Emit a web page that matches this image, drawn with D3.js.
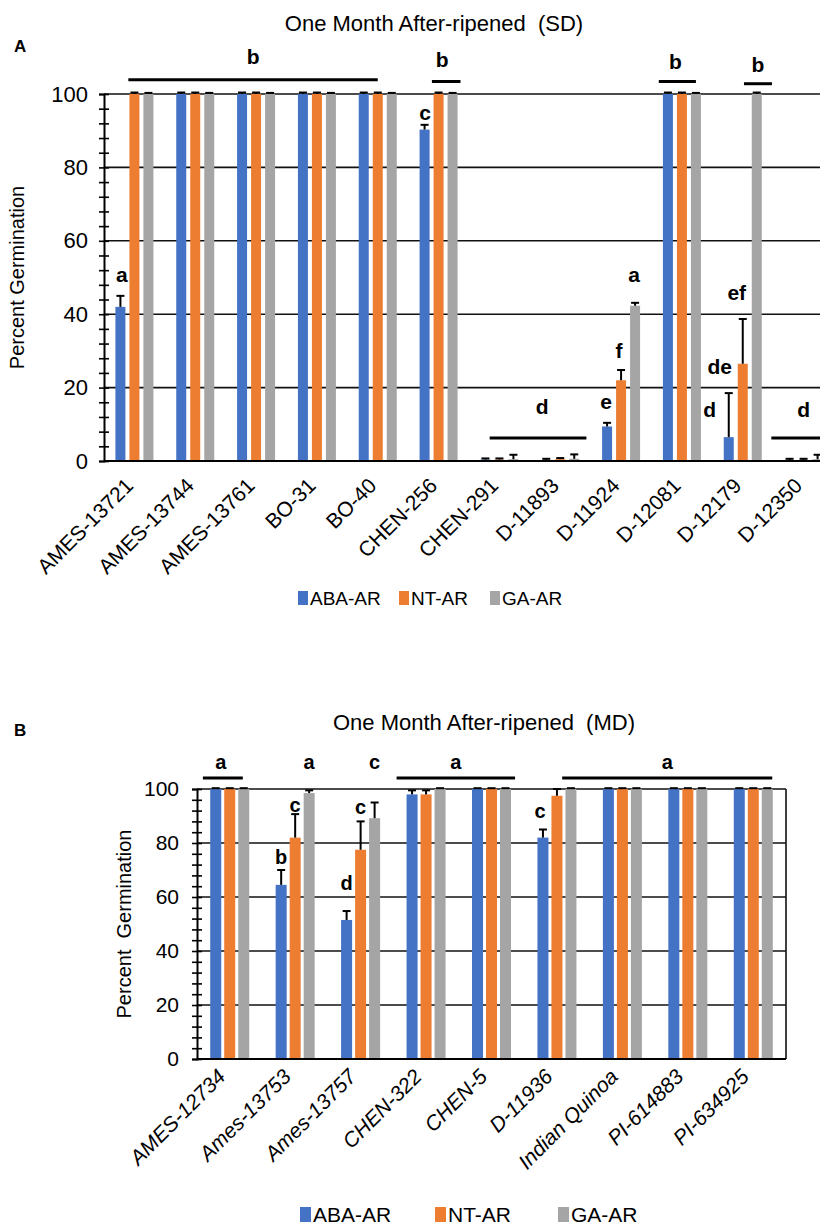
<!DOCTYPE html>
<html><head><meta charset="utf-8">
<script src="https://cdn.jsdelivr.net/npm/d3@7"></script>
<style>
body{margin:0;background:#fff}
svg{display:block}
text{font-family:Arial,"Liberation Sans",sans-serif;fill:#000}
</style>
</head><body>
<svg id="c" width="820" height="1230"></svg>
<script>
// ---------- DATA ----------
const seriesNames = ["ABA-AR", "NT-AR", "GA-AR"];
const seriesColors = ["#4472C4", "#ED7D31", "#A5A5A5"];
const yTickLabels = [0, 20, 40, 60, 80, 100];

// Panel A: One Month After-ripened (SD)
const catsA = ["AMES-13721","AMES-13744","AMES-13761","BO-31","BO-40","CHEN-256","CHEN-291","D-11893","D-11924","D-12081","D-12179","D-12350"];
const abaA = [42, 100, 100, 100, 100, 90.3, 0.4, 0.3, 9.4, 100, 6.5, 0.3];
const ntA  = [100, 100, 100, 100, 100, 100, 0.4, 0.5, 22, 100, 26.5, 0.3];
const gaA  = [100, 100, 100, 100, 100, 100, 0.5, 0.6, 42.3, 100, 100, 0.5];
const abaErrA = [3, 0.4, 0.4, 0.4, 0.4, 1.3, 0.3, 0.3, 1, 0.4, 12, 0.3];
const ntErrA  = [0.4, 0.4, 0.4, 0.4, 0.4, 0.4, 0.3, 0.3, 2.8, 0.4, 12.2, 0.3];
const gaErrA  = [0.3, 0.3, 0.3, 0.3, 0.3, 0.3, 1.2, 1.2, 0.8, 0.3, 0.4, 1.2];
// group letters: span in category units, line level and letter level in % units
const groupTextA = ["b", "b", "b", "b", "d", "d"];
const groupFromA = [-0.1, 4.89, 8.62, 10.02, 5.84, 10.47];
const groupToA   = [4.0, 5.36, 9.23, 10.48, 7.43, 11.6];
const groupLineA = [103.9, 103.4, 103.4, 102.8, 6.3, 6.3];
const groupLetA  = [110.2, 109.4, 108.8, 108, 14.7, 13.9];
// bar letters: category, series position, level
const barTextA = ["a", "c", "e", "f", "a", "d", "de", "ef"];
const barCatA  = [0, 5, 8, 8, 8, 10, 10, 10];
const barPosA  = [0.1, 0.03, -0.07, 0.86, 1.93, -1.36, -0.64, 0.57];
const barLvlA  = [50.7, 94.9, 16.1, 30, 50.7, 13.9, 25.6, 46];

// Panel B: One Month After-ripened (MD)
const catsB = ["AMES-12734","Ames-13753","Ames-13757","CHEN-322","CHEN-5","D-11936","Indian Quinoa","PI-614883","PI-634925"];
const abaB = [100, 64.5, 51.5, 98, 100, 82, 100, 100, 100];
const ntB  = [100, 82, 77.5, 98, 100, 97.5, 100, 100, 100];
const gaB  = [100, 98.5, 89.2, 100, 100, 100, 100, 100, 100];
const abaErrB = [0.3, 5.5, 3.3, 1.5, 0.3, 3, 0.3, 0.3, 0.3];
const ntErrB  = [0.3, 8.7, 10.5, 1.5, 0.3, 2.5, 0.3, 0.3, 0.3];
const gaErrB  = [0.3, 1, 5.8, 0.3, 0.3, 0.3, 0.3, 0.3, 0.3];
const groupTextB = ["a", "a", "a"];
const groupFromB = [-0.41, 2.55, 5.08];
const groupToB   = [0.2, 4.36, 8.29];
const groupLineB = [104.1, 104.1, 104.1];
const groupLetB  = [110, 110, 110];
const barTextB = ["a", "c", "b", "c", "c", "d", "c"];
const barCatB  = [1, 2, 1, 1, 2, 2, 5];
const barPosB  = [2, 2, 0, 1, 1, 0, -0.2];
const barLvlB  = [110, 110, 74.8, 94, 93.3, 65.2, 91.9];

// ---------- DRAW ----------
const svg = d3.select("#c");

function drawPanel(cfg) {
  const g = svg.append("g");
  const n = cfg.cats.length;
  const x = d3.scaleBand().domain(d3.range(n)).range([cfg.x0, cfg.x1]).padding(0);
  const xc = d3.scaleLinear().domain([-0.5, n - 0.5]).range([cfg.x0, cfg.x1]);
  const y = d3.scaleLinear().domain([0, 100]).range([cfg.yb, cfg.yt]);
  const center = i => x(i) + x.bandwidth() / 2;

  // gridlines
  g.selectAll(".grid").data([20, 40, 60, 80, 100]).join("line")
    .attr("x1", cfg.x0).attr("x2", cfg.gridEnd)
    .attr("y1", d => y(d)).attr("y2", d => y(d))
    .attr("stroke", "#111").attr("stroke-width", 1.6);
  if (cfg.box) {
    g.append("line").attr("x1", cfg.gridEnd).attr("x2", cfg.gridEnd)
      .attr("y1", y(100)).attr("y2", y(0)).attr("stroke", "#111").attr("stroke-width", 1.6);
  }

  // bars
  cfg.series.forEach((vals, s) => {
    g.append("g").selectAll("rect").data(vals).join("rect")
      .attr("x", (d, i) => center(i) + (s - 1) * cfg.step - cfg.bw / 2)
      .attr("width", cfg.bw)
      .attr("y", d => y(d))
      .attr("height", d => y(0) - y(d))
      .attr("fill", seriesColors[s]);
  });

  // error bars (upper only)
  cfg.series.forEach((vals, s) => {
    const errs = cfg.errs[s];
    const eg = g.append("g").attr("stroke", "#000").attr("stroke-width", 2);
    vals.forEach((v, i) => {
      const cx = center(i) + (s - 1) * cfg.step;
      eg.append("line").attr("x1", cx).attr("x2", cx).attr("y1", y(v)).attr("y2", y(v + errs[i]));
      eg.append("line").attr("x1", cx - 4).attr("x2", cx + 4).attr("y1", y(v + errs[i])).attr("y2", y(v + errs[i]));
    });
  });

  // x axis line
  g.append("line").attr("x1", cfg.x0).attr("x2", cfg.gridEnd)
    .attr("y1", y(0)).attr("y2", y(0)).attr("stroke", "#000").attr("stroke-width", 2.2);

  // y axis: minor/major crossing ticks
  const minor = g.append("g").attr("transform", `translate(${cfg.x0},0)`)
    .call(d3.axisLeft(y).tickValues(d3.range(0, 101, 4)).tickSize(5).tickFormat(""));
  minor.select(".domain").attr("stroke", "#000").attr("stroke-width", 2);
  minor.selectAll(".tick line").attr("x1", 5).attr("x2", -5).attr("stroke", "#000").attr("stroke-width", 1.6);

  // y tick labels
  const lab = g.append("g").attr("transform", `translate(${cfg.x0},0)`)
    .call(d3.axisLeft(y).tickValues(yTickLabels).tickSize(0).tickPadding(cfg.tickPad));
  lab.select(".domain").remove();
  lab.selectAll("text").style("font-size", cfg.tickFont + "px").style("font-family", "Arial, 'Liberation Sans', sans-serif").attr("fill", "#000");

  // x category labels
  g.selectAll(".xl").data(cfg.cats).join("text")
    .attr("transform", (d, i) => `translate(${center(i) + cfg.labDx},${cfg.labY}) rotate(-45)`)
    .attr("text-anchor", "end")
    .style("font-size", cfg.labFont + "px")
    .style("font-style", cfg.italic ? "italic" : "normal")
    .text(d => d);

  // group significance lines and letters
  cfg.groupText.forEach((t, k) => {
    g.append("line").attr("x1", xc(cfg.groupFrom[k])).attr("x2", xc(cfg.groupTo[k]))
      .attr("y1", y(cfg.groupLine[k])).attr("y2", y(cfg.groupLine[k]))
      .attr("stroke", "#000").attr("stroke-width", 3);
    g.append("text").attr("x", (xc(cfg.groupFrom[k]) + Math.min(xc(cfg.groupTo[k]), 820)) / 2 + (cfg.groupShift[k] || 0))
      .attr("y", y(cfg.groupLet[k])).attr("dy", "0.35em")
      .attr("text-anchor", "middle").style("font-weight", "bold").style("font-size", cfg.letFont + "px").text(t);
  });
  // bar letters
  cfg.barText.forEach((t, k) => {
    g.append("text").attr("x", center(cfg.barCat[k]) + (cfg.barPos[k] - 1) * cfg.step)
      .attr("y", y(cfg.barLvl[k])).attr("dy", "0.35em")
      .attr("text-anchor", "middle").style("font-weight", "bold").style("font-size", cfg.letFont + "px").text(t);
  });

  // title
  g.append("text").attr("x", cfg.titleX).attr("y", cfg.titleY).attr("text-anchor", "middle")
    .style("font-size", "22px").style("white-space", "pre").text(cfg.title);
  // panel letter
  g.append("text").attr("x", 14).attr("y", cfg.panelY).style("font-weight", "bold").style("font-size", "17px").text(cfg.panel);
  // y axis title
  g.append("text").attr("transform", `translate(${cfg.yTitleX},${(y(0) + y(100)) / 2}) rotate(-90)`)
    .attr("text-anchor", "middle").style("font-size", "20px").style("white-space", "pre").text(cfg.yTitle);

  // legend
  const lg = g.append("g");
  seriesNames.forEach((nm, s) => {
    const lx = cfg.legX[s];
    lg.append("rect").attr("x", lx).attr("y", cfg.legY - cfg.legSq + 2).attr("width", cfg.legSq - 4).attr("height", cfg.legSq).attr("fill", seriesColors[s]);
    lg.append("text").attr("x", lx + cfg.legSq - 2).attr("y", cfg.legY + 2).style("font-size", cfg.legFont + "px").text(nm);
  });
}

drawPanel({
  cats: catsA, series: [abaA, ntA, gaA], errs: [abaErrA, ntErrA, gaErrA],
  x0: 104, x1: 834, yt: 94, yb: 461, gridEnd: 834, box: false,
  bw: 10, step: 14, tickFont: 22, tickPad: 16, labFont: 21, labDx: 0, labY: 487, italic: false,
  groupText: groupTextA, groupFrom: groupFromA, groupTo: groupToA, groupLine: groupLineA, groupLet: groupLetA,
  groupShift: [0, -4, -2, 0, 4, 8],
  barText: barTextA, barCat: barCatA, barPos: barPosA, barLvl: barLvlA, letFont: 21,
  title: "One Month After-ripened  (SD)", titleX: 434, titleY: 31, panel: "A", panelY: 52,
  yTitle: "Percent Germination", yTitleX: 24,
  legX: [298, 399, 490], legY: 603, legSq: 14, legFont: 19
});

drawPanel({
  cats: catsB, series: [abaB, ntB, gaB], errs: [abaErrB, ntErrB, gaErrB],
  x0: 197, x1: 786, yt: 789, yb: 1059, gridEnd: 786, box: true,
  bw: 11, step: 14, tickFont: 21, tickPad: 18, labFont: 21, labDx: -3, labY: 1078, italic: true,
  groupText: groupTextB, groupFrom: groupFromB, groupTo: groupToB, groupLine: groupLineB, groupLet: groupLetB,
  groupShift: [-2, 0, 0],
  barText: barTextB, barCat: barCatB, barPos: barPosB, barLvl: barLvlB, letFont: 20,
  title: "One Month After-ripened  (MD)", titleX: 484, titleY: 730, panel: "B", panelY: 736,
  yTitle: "Percent  Germination", yTitleX: 131,
  legX: [300, 435, 558], legY: 1220, legSq: 15, legFont: 21
});
</script>
</body></html>
